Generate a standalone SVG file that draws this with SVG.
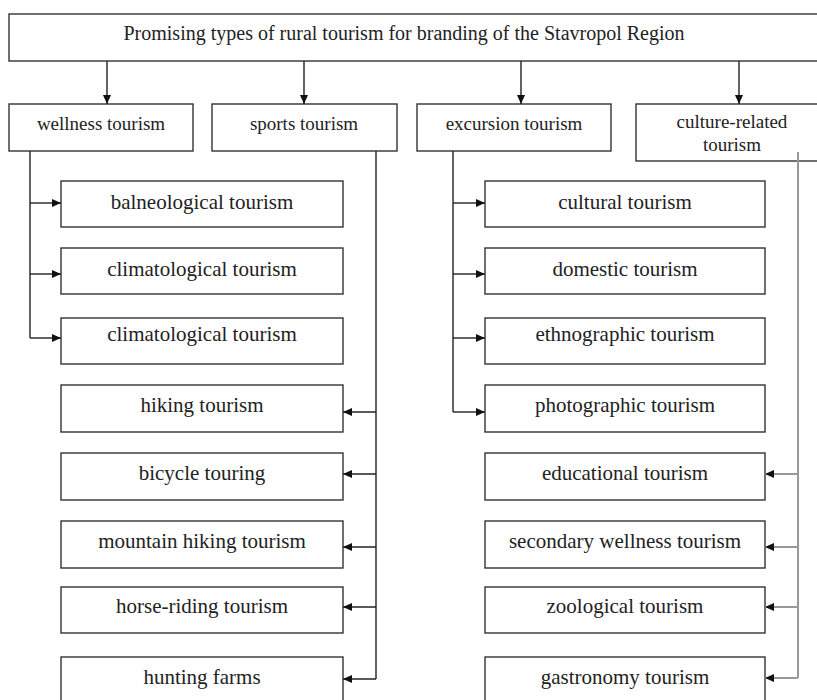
<svg xmlns="http://www.w3.org/2000/svg" width="817" height="700" viewBox="0 0 817 700">
<style>
.box{fill:#fff;stroke:#333;stroke-width:1.4}
.t{font-family:"Liberation Serif","Times New Roman",serif;font-size:21px;fill:#222;text-anchor:middle}
.h{font-size:19px}
.r{font-size:20px}
.c{fill:none;stroke:#222;stroke-width:1.4}
.g{fill:none;stroke:#999;stroke-width:2}
</style>
<defs>
<marker id="a" markerUnits="userSpaceOnUse" markerWidth="9" markerHeight="8" refX="9" refY="4" orient="auto">
<path d="M0,0 L9,4 L0,8 z" fill="#111"/>
</marker>
</defs>
<rect width="817" height="700" fill="#fff"/>
<g id="root"><rect class="box" x="9" y="14" width="815" height="47"/><text class="t r" x="404" y="40">Promising types of rural tourism for branding of the Stavropol Region</text></g>
<g id="wellness"><rect class="box" x="9" y="104" width="184" height="47"/><text class="t h" x="101" y="130">wellness tourism</text></g>
<g id="sports"><rect class="box" x="212" y="104" width="185" height="47"/><text class="t h" x="304" y="130">sports tourism</text></g>
<g id="excursion"><rect class="box" x="417" y="104" width="194" height="47"/><text class="t h" x="514" y="130">excursion tourism</text></g>
<g id="culture"><rect class="box" x="636" y="104" width="190" height="57"/><text class="t h" x="732" y="128">culture-related</text><text class="t h" x="732" y="151">tourism</text></g>

<g id="balneological"><rect class="box" x="61" y="181" width="282" height="46"/><text class="t" x="202" y="209">balneological tourism</text></g>
<g id="climatological1"><rect class="box" x="61" y="248" width="282" height="46"/><text class="t" x="202" y="276">climatological tourism</text></g>
<g id="climatological2"><rect class="box" x="61" y="318" width="282" height="46"/><text class="t" x="202" y="341">climatological tourism</text></g>
<g id="hiking"><rect class="box" x="61" y="385" width="282" height="47"/><text class="t" x="202" y="412">hiking tourism</text></g>
<g id="bicycle"><rect class="box" x="61" y="453" width="282" height="47"/><text class="t" x="202" y="480">bicycle touring</text></g>
<g id="mountain"><rect class="box" x="61" y="521" width="282" height="47"/><text class="t" x="202" y="548">mountain hiking tourism</text></g>
<g id="horse"><rect class="box" x="61" y="587" width="282" height="46"/><text class="t" x="202" y="613">horse-riding tourism</text></g>
<g id="hunting"><rect class="box" x="61" y="657" width="282" height="50"/><text class="t" x="202" y="684">hunting farms</text></g>

<g id="cultural"><rect class="box" x="485" y="181" width="280" height="46"/><text class="t" x="625" y="209">cultural tourism</text></g>
<g id="domestic"><rect class="box" x="485" y="248" width="280" height="46"/><text class="t" x="625" y="276">domestic tourism</text></g>
<g id="ethnographic"><rect class="box" x="485" y="318" width="280" height="46"/><text class="t" x="625" y="341">ethnographic tourism</text></g>
<g id="photographic"><rect class="box" x="485" y="385" width="280" height="47"/><text class="t" x="625" y="412">photographic tourism</text></g>
<g id="educational"><rect class="box" x="485" y="453" width="280" height="47"/><text class="t" x="625" y="480">educational tourism</text></g>
<g id="secondary"><rect class="box" x="485" y="521" width="280" height="47"/><text class="t" x="625" y="548">secondary wellness tourism</text></g>
<g id="zoological"><rect class="box" x="485" y="587" width="280" height="46"/><text class="t" x="625" y="613">zoological tourism</text></g>
<g id="gastronomy"><rect class="box" x="485" y="657" width="280" height="50"/><text class="t" x="625" y="684">gastronomy tourism</text></g>

<g id="connectors">
<path class="c" d="M107,61 V104" marker-end="url(#a)"/>
<path class="c" d="M304,61 V104" marker-end="url(#a)"/>
<path class="c" d="M521,61 V104" marker-end="url(#a)"/>
<path class="c" d="M739,61 V104" marker-end="url(#a)"/>

<path class="c" d="M30,151 V338"/>
<path class="c" d="M30,203 H61" marker-end="url(#a)"/>
<path class="c" d="M30,274 H61" marker-end="url(#a)"/>
<path class="c" d="M30,338 H61" marker-end="url(#a)"/>

<path class="c" d="M376,151 V679"/>
<path class="c" d="M376,412 H343" marker-end="url(#a)"/>
<path class="c" d="M376,474 H343" marker-end="url(#a)"/>
<path class="c" d="M376,547 H343" marker-end="url(#a)"/>
<path class="c" d="M376,607 H343" marker-end="url(#a)"/>
<path class="c" d="M376,679 H343" marker-end="url(#a)"/>

<path class="c" d="M453,151 V412"/>
<path class="c" d="M453,203 H485" marker-end="url(#a)"/>
<path class="c" d="M453,274 H485" marker-end="url(#a)"/>
<path class="c" d="M453,338 H485" marker-end="url(#a)"/>
<path class="c" d="M453,412 H485" marker-end="url(#a)"/>

<path class="g" d="M798,152 V678"/>
<path class="g" d="M798,474 H765" marker-end="url(#a)"/>
<path class="g" d="M798,547 H765" marker-end="url(#a)"/>
<path class="g" d="M798,607 H765" marker-end="url(#a)"/>
<path class="g" d="M798,678 H765" marker-end="url(#a)"/>
</g>
</svg>
